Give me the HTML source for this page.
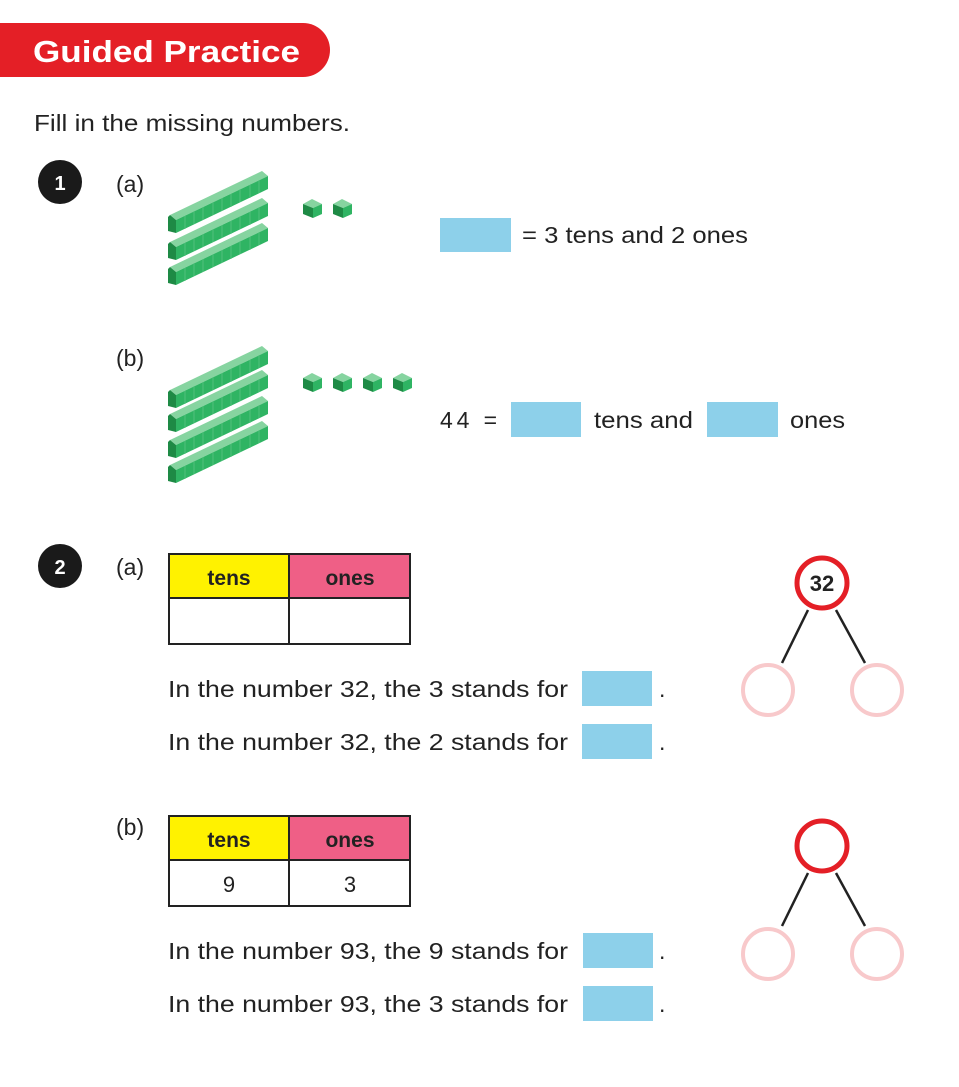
<!DOCTYPE html>
<html><head><meta charset="utf-8"><style>
body{margin:0;background:#fff;}
svg{display:block;}
text{font-family:"Liberation Sans",sans-serif;}
</style></head><body>
<svg width="959" height="1087" viewBox="0 0 959 1087" xmlns="http://www.w3.org/2000/svg">
<defs>
<g id="rod">
  <polygon points="2,-18 94,-62 100,-57 8,-13" fill="#86d4a0"/>
  <polygon points="8,0 8,-13 100,-57 100,-44" fill="#2fb463"/>
  <polygon points="0,-2 8,0 8,-13 2,-18 0,-16" fill="#1e8a45"/>
  <g stroke="#5cc482" stroke-width="0.8">
    <line x1="17" y1="-4" x2="17" y2="-17"/><line x1="26" y1="-9" x2="26" y2="-22"/>
    <line x1="35" y1="-13" x2="35" y2="-26"/><line x1="45" y1="-18" x2="45" y2="-31"/>
    <line x1="54" y1="-22" x2="54" y2="-35"/><line x1="63" y1="-26" x2="63" y2="-39"/>
    <line x1="72" y1="-31" x2="72" y2="-44"/><line x1="82" y1="-35" x2="82" y2="-48"/>
    <line x1="91" y1="-40" x2="91" y2="-53"/>
  </g>
</g>
<g id="cube">
  <polygon points="0,5 9,0 19,5 10,9" fill="#86d4a0"/>
  <polygon points="0,5 10,9 10,19 0,15" fill="#1e8a45"/>
  <polygon points="10,9 19,5 19,15 10,19" fill="#2fb463"/>
</g>
</defs>
<path d="M0,23 H303 A27,27 0 0 1 303,77 H0 Z" fill="#e41f26"/>
<text x="33" y="62" font-size="31" font-weight="bold" fill="#fff" textLength="267" lengthAdjust="spacingAndGlyphs">Guided Practice</text>
<text x="34" y="131" font-size="23" fill="#222" textLength="316" lengthAdjust="spacingAndGlyphs">Fill in the missing numbers.</text>

<circle cx="60" cy="182" r="22" fill="#1a1a1a"/>
<text x="60" y="190" font-size="20" font-weight="bold" fill="#fff" text-anchor="middle">1</text>
<text x="116" y="192" font-size="23" fill="#222">(a)</text>
<use href="#rod" x="168" y="233"/>
<use href="#rod" x="168" y="260"/>
<use href="#rod" x="168" y="285"/>
<use href="#cube" x="303" y="199"/>
<use href="#cube" x="333" y="199"/>
<rect x="440" y="218" width="71" height="34" fill="#8dd0ea"/>
<text x="522" y="243" font-size="23" fill="#222" textLength="226" lengthAdjust="spacingAndGlyphs">= 3 tens and 2 ones</text>

<text x="116" y="366" font-size="23" fill="#222">(b)</text>
<use href="#rod" x="168" y="408"/>
<use href="#rod" x="168" y="432"/>
<use href="#rod" x="168" y="458"/>
<use href="#rod" x="168" y="483"/>
<use href="#cube" x="303" y="373"/>
<use href="#cube" x="333" y="373"/>
<use href="#cube" x="363" y="373"/>
<use href="#cube" x="393" y="373"/>
<text x="440" y="428" font-size="23" fill="#222" textLength="57" lengthAdjust="spacing">44 =</text>
<rect x="511" y="402" width="70" height="35" fill="#8dd0ea"/>
<text x="594" y="428" font-size="23" fill="#222" textLength="99" lengthAdjust="spacingAndGlyphs">tens and</text>
<rect x="707" y="402" width="71" height="35" fill="#8dd0ea"/>
<text x="790" y="428" font-size="23" fill="#222" textLength="55" lengthAdjust="spacingAndGlyphs">ones</text>

<circle cx="60" cy="566" r="22" fill="#1a1a1a"/>
<text x="60" y="574" font-size="20" font-weight="bold" fill="#fff" text-anchor="middle">2</text>
<text x="116" y="575" font-size="23" fill="#222">(a)</text>
<rect x="169" y="554" width="120" height="44" fill="#fff200"/>
<rect x="289" y="554" width="121" height="44" fill="#ef5f86"/>
<rect x="169" y="554" width="241" height="90" fill="none" stroke="#222" stroke-width="2"/>
<line x1="169" y1="598" x2="410" y2="598" stroke="#222" stroke-width="2"/>
<line x1="289" y1="554" x2="289" y2="644" stroke="#222" stroke-width="2"/>
<text x="229" y="585" font-size="21" font-weight="bold" fill="#222" text-anchor="middle">tens</text>
<text x="350" y="585" font-size="21" font-weight="bold" fill="#222" text-anchor="middle">ones</text>
<text x="168" y="697" font-size="23" fill="#222" textLength="400" lengthAdjust="spacingAndGlyphs">In the number 32, the 3 stands for</text>
<rect x="582" y="671" width="70" height="35" fill="#8dd0ea"/>
<text x="659" y="697" font-size="23" fill="#222">.</text>
<text x="168" y="750" font-size="23" fill="#222" textLength="400" lengthAdjust="spacingAndGlyphs">In the number 32, the 2 stands for</text>
<rect x="582" y="724" width="70" height="35" fill="#8dd0ea"/>
<text x="659" y="750" font-size="23" fill="#222">.</text>

<line x1="808" y1="610" x2="782" y2="663" stroke="#222" stroke-width="2.5"/>
<line x1="836" y1="610" x2="865" y2="663" stroke="#222" stroke-width="2.5"/>
<circle cx="822" cy="583" r="25" fill="#fff" stroke="#e41f26" stroke-width="5"/>
<text x="822" y="591" font-size="22" font-weight="bold" fill="#222" text-anchor="middle">32</text>
<circle cx="768" cy="690" r="25" fill="#fff" stroke="#f8c9cb" stroke-width="4"/>
<circle cx="877" cy="690" r="25" fill="#fff" stroke="#f8c9cb" stroke-width="4"/>

<text x="116" y="835" font-size="23" fill="#222">(b)</text>
<rect x="169" y="816" width="120" height="44" fill="#fff200"/>
<rect x="289" y="816" width="121" height="44" fill="#ef5f86"/>
<rect x="169" y="816" width="241" height="90" fill="none" stroke="#222" stroke-width="2"/>
<line x1="169" y1="860" x2="410" y2="860" stroke="#222" stroke-width="2"/>
<line x1="289" y1="816" x2="289" y2="906" stroke="#222" stroke-width="2"/>
<text x="229" y="847" font-size="21" font-weight="bold" fill="#222" text-anchor="middle">tens</text>
<text x="350" y="847" font-size="21" font-weight="bold" fill="#222" text-anchor="middle">ones</text>
<text x="229" y="892" font-size="22" fill="#222" text-anchor="middle">9</text>
<text x="350" y="892" font-size="22" fill="#222" text-anchor="middle">3</text>
<text x="168" y="959" font-size="23" fill="#222" textLength="400" lengthAdjust="spacingAndGlyphs">In the number 93, the 9 stands for</text>
<rect x="583" y="933" width="70" height="35" fill="#8dd0ea"/>
<text x="659" y="959" font-size="23" fill="#222">.</text>
<text x="168" y="1012" font-size="23" fill="#222" textLength="400" lengthAdjust="spacingAndGlyphs">In the number 93, the 3 stands for</text>
<rect x="583" y="986" width="70" height="35" fill="#8dd0ea"/>
<text x="659" y="1012" font-size="23" fill="#222">.</text>

<line x1="808" y1="873" x2="782" y2="926" stroke="#222" stroke-width="2.5"/>
<line x1="836" y1="873" x2="865" y2="926" stroke="#222" stroke-width="2.5"/>
<circle cx="822" cy="846" r="25" fill="#fff" stroke="#e41f26" stroke-width="5"/>
<circle cx="768" cy="954" r="25" fill="#fff" stroke="#f8c9cb" stroke-width="4"/>
<circle cx="877" cy="954" r="25" fill="#fff" stroke="#f8c9cb" stroke-width="4"/>
</svg>
</body></html>
